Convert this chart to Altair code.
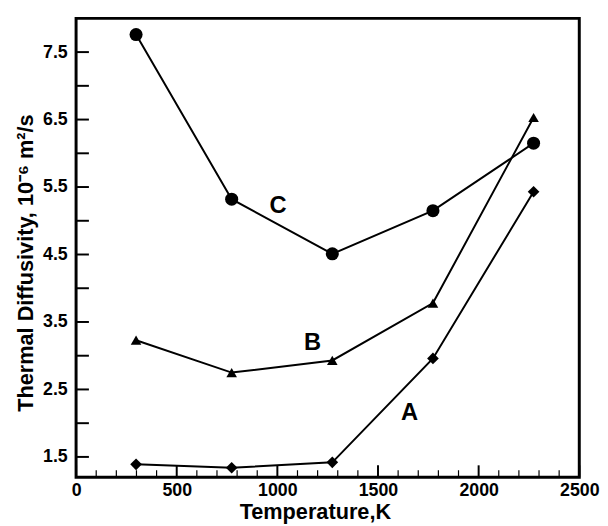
import altair as alt
import pandas as pd

# ---- data ----
temps = [298, 773, 1273, 1773, 2273]
a_vals = [1.39, 1.34, 1.42, 2.96, 5.43]
b_vals = [3.23, 2.75, 2.93, 3.78, 6.53]
c_vals = [7.76, 5.32, 4.51, 5.15, 6.15]
series_names = ["A", "B", "C"]
series_shapes = ["diamond", "triangle-up", "circle"]
series_sizes = [140, 115, 175]

label_text = ["A", "B", "C"]
label_x = [1657, 1175, 1003]
label_y = [2.15, 3.18, 5.22]

x_major = [0, 500, 1000, 1500, 2000, 2500]
x_minor = [100, 200, 300, 400, 600, 700, 800, 900, 1100, 1200, 1300, 1400,
           1600, 1700, 1800, 1900, 2100, 2200, 2300, 2400]
y_labels = [1.5, 2.5, 3.5, 4.5, 5.5, 6.5, 7.5]
y_ticks = [1.5, 2.0, 2.5, 3.0, 3.5, 4.0, 4.5, 5.0, 5.5, 6.0, 6.5, 7.0, 7.5]

FONT = "Liberation Sans"
W, H = 510, 465

rows = []
for name, vals in zip(series_names, [a_vals, b_vals, c_vals]):
    for t, v in zip(temps, vals):
        rows.append({"series": name, "T": t, "D": v})
df = pd.DataFrame(rows)

xs = alt.Scale(domain=[0, 2500], nice=False, zero=False)
ys = alt.Scale(domain=[1.2, 8.0], nice=False, zero=False)

x_axis = alt.Axis(values=x_major, format="d", ticks=False, domain=False,
                  grid=False, labelFont=FONT, labelFontSize=18,
                  labelFontWeight="bold", labelColor="black", labelPadding=5,
                  labelFlush=False, labelOverlap=False,
                  title="Temperature,K", titleFont=FONT, titleFontSize=22,
                  titleFontWeight="bold", titleColor="black",
                  titleX=W / 2 - 13, titleY=42, titleBaseline="alphabetic")
y_axis = alt.Axis(values=y_labels, format=".1f", ticks=False, domain=False,
                  grid=False, labelFont=FONT, labelFontSize=18,
                  labelFontWeight="bold", labelColor="black", labelPadding=9,
                  labelOverlap=False,
                  title="Thermal Diffusivity, 10⁻⁶ m²/s", titleFont=FONT,
                  titleFontSize=22, titleFontWeight="bold", titleColor="black",
                  titleX=-44, titleY=H / 2 + 15, titleBaseline="alphabetic")

base = alt.Chart(df).encode(
    x=alt.X("T:Q", scale=xs, axis=x_axis),
    y=alt.Y("D:Q", scale=ys, axis=y_axis),
)

lines = base.mark_line(color="black", strokeWidth=2).encode(detail="series:N")

layers = [lines]
for name, shape, size in zip(series_names, series_shapes, series_sizes):
    layers.append(
        alt.Chart(df[df.series == name]).mark_point(
            filled=True, shape=shape, size=size, color="black", opacity=1
        ).encode(x=alt.X("T:Q", scale=xs), y=alt.Y("D:Q", scale=ys))
    )

ytick_df = pd.DataFrame({"v": y_ticks})
yticks = alt.Chart(ytick_df).mark_rule(color="black", strokeWidth=2).encode(
    y=alt.Y("v:Q", scale=ys), x=alt.value(0), x2=alt.value(13))

xmaj_df = pd.DataFrame({"v": x_major})
xmaj = alt.Chart(xmaj_df).mark_rule(color="black", strokeWidth=2).encode(
    x=alt.X("v:Q", scale=xs), y=alt.value(H), y2=alt.value(H - 12))

xmin_df = pd.DataFrame({"v": x_minor})
xmin = alt.Chart(xmin_df).mark_rule(color="black", strokeWidth=1.2).encode(
    x=alt.X("v:Q", scale=xs), y=alt.value(H), y2=alt.value(H - 7))

lab_df = pd.DataFrame({"t": label_text, "x": label_x, "y": label_y})
labels = alt.Chart(lab_df).mark_text(
    font=FONT, fontSize=24, fontWeight="bold", color="black"
).encode(x=alt.X("x:Q", scale=xs), y=alt.Y("y:Q", scale=ys), text="t:N")

chart = alt.layer(yticks, xmaj, xmin, *layers, labels).properties(
    width=W, height=H,
    autosize=alt.AutoSizeParams(type="none"),
    padding={"left": 69, "top": 7, "right": 21, "bottom": 46},
    background="white",
).configure_view(stroke="black", strokeWidth=3)

chart.save("out.html", embed_options={"renderer": "svg", "actions": False})
